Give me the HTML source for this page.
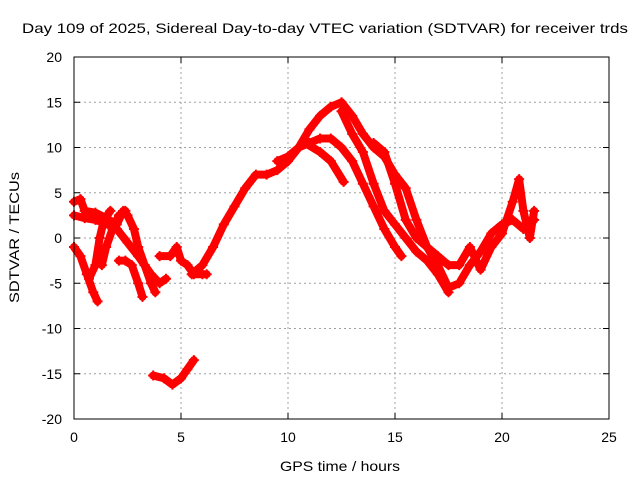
<!DOCTYPE html>
<html><head><meta charset="utf-8"><style>
body{margin:0;background:#fff}
svg text{font-family:"Liberation Sans",sans-serif;font-size:14px;fill:#000}
</style></head><body>
<svg id="chart" width="640" height="480">
<text x="22" y="33" font-size="16" textLength="606" lengthAdjust="spacingAndGlyphs">Day 109 of 2025, Sidereal Day-to-day VTEC variation (SDTVAR) for receiver trds</text>
<text x="280" y="471" font-size="15" textLength="120" lengthAdjust="spacingAndGlyphs">GPS time / hours</text>
<text transform="translate(19,303) rotate(-90)" font-size="15" textLength="131" lengthAdjust="spacingAndGlyphs">SDTVAR / TECUs</text>
<g id="grid"></g><g id="marks"></g><g id="axes"></g>
</svg>
<script>
const xTicks=[0,5,10,15,20,25];
const yTicks=[-20,-15,-10,-5,0,5,10,15,20];
const track1=[[0,4],[0.3,4.3],[0.5,3],[1,2.8],[1.5,2.2],[2,1.5],[2.3,3],[2.5,2.5],[2.8,1],[3,-1],[3.3,-3],[3.6,-4],[4,-5],[4.3,-4.5]];
const track2=[[0,2.5],[0.5,2.2],[1,2],[1.5,1.6],[2,1],[2.5,-0.5],[3,-2],[3.3,-3],[3.6,-5],[3.8,-6]];
const track3=[[0,-1],[0.3,-2],[0.6,-4],[0.9,-6],[1.1,-7]];
const track4=[[0.7,-4.5],[1,-3],[1.2,0],[1.4,2],[1.7,3]];
const track5=[[1.3,-3],[1.5,-1],[1.8,1],[2.1,2.5],[2.4,3]];
const track6=[[2.1,-2.5],[2.4,-2.5],[2.7,-3],[3,-5],[3.2,-6.5]];
const track7=[[4,-2],[4.5,-2],[4.8,-1],[5,-2.5],[5.3,-3],[5.6,-4],[6,-4],[6.2,-4]];
const track8=[[3.7,-15.2],[4.2,-15.5],[4.6,-16.2],[5,-15.5],[5.3,-14.5],[5.6,-13.5]];
const track9=[[5.5,-4],[6,-3],[6.5,-1],[7,1.5],[7.5,3.5],[8,5.5],[8.5,7],[9,7],[9.5,7.5],[10,8.5],[10.5,10],[11,12],[11.5,13.5],[12,14.5],[12.5,15],[13,13.5],[13.5,11.5],[14,10],[14.5,9],[15,7],[15.5,5.5],[16,2],[16.5,-1],[17,-3],[17.5,-5.5],[18,-5],[18.5,-3],[19,-1.5],[19.5,0.5],[20,1.5],[20.5,2],[21,1],[21.5,2]];
const track10=[[9.5,8.5],[10,9],[10.5,10],[11,10.5],[11.5,11],[12,11],[12.5,10],[13,8.5],[13.5,6],[14,3.5],[14.5,1],[15,-1],[15.3,-2]];
const track11=[[10.8,10.5],[11.5,9.5],[12,8.5],[12.6,6.2]];
const track12=[[12.5,14],[13,11.5],[13.5,9.5],[14,6],[14.5,3],[15,1.5],[15.5,0],[16,-1.5],[16.5,-2.5],[17,-4],[17.5,-6]];
const track13=[[14,10.5],[14.5,9.5],[15,6],[15.5,2],[16,0],[16.5,-1],[17,-2],[17.5,-3],[18,-3],[18.5,-1],[19,-3.5],[19.5,-1],[20,0.5],[20.5,4],[20.8,6.5],[21,3],[21.3,0],[21.5,3]];
const tracks=[track1,track2,track3,track4,track5,track6,track7,track8,track9,track10,track11,track12,track13];
const X0=74,X1=609,Y0=419,Y1=57;
const sx=v=>X0+(v-0)/(25-0)*(X1-X0);
const sy=v=>Y0-(v+20)/40*(Y0-Y1);
const NS="http://www.w3.org/2000/svg";
function mk(tag,attrs,parent){const e=document.createElementNS(NS,tag);for(const k in attrs)e.setAttribute(k,attrs[k]);parent.appendChild(e);return e;}
const grid=document.getElementById('grid'),marks=document.getElementById('marks'),axes=document.getElementById('axes');
xTicks.forEach(t=>{
 if(t>0&&t<25){const l=mk('line',{x1:sx(t),x2:sx(t),y1:Y1,y2:Y0,stroke:'#a0a0a0','stroke-dasharray':'2,3'},grid);
 
 }
 const tx=mk('text',{x:sx(t),y:Y0+23,'text-anchor':'middle'},axes);tx.textContent=t;
 
 
 mk('line',{x1:sx(t),x2:sx(t),y1:Y0,y2:Y0-6,stroke:'#000'},axes);
 mk('line',{x1:sx(t),x2:sx(t),y1:Y1,y2:Y1+6,stroke:'#000'},axes);
});
yTicks.forEach(t=>{
 if(t>-20&&t<20){const l=mk('line',{x1:X0,x2:X1,y1:sy(t),y2:sy(t),stroke:'#a0a0a0','stroke-dasharray':'2,3'},grid);
 
 }
 const tx=mk('text',{x:X0-12,y:sy(t)+5,'text-anchor':'end'},axes);tx.textContent=t;
 
 
 mk('line',{x1:X0,x2:X0+6,y1:sy(t),y2:sy(t),stroke:'#000'},axes);
 mk('line',{x1:X1,x2:X1-6,y1:sy(t),y2:sy(t),stroke:'#000'},axes);
});
const frame=mk('rect',{x:X0,y:Y1,width:X1-X0,height:Y0-Y1,fill:'none',stroke:'#000'},axes);


tracks.forEach(tr=>{
 const pl=mk('polyline',{points:tr.map(p=>sx(p[0])+','+sy(p[1])).join(' '),fill:'none',stroke:'#f00','stroke-width':8,'stroke-linejoin':'round','stroke-linecap':'round'},marks);
 
 
 tr.forEach(p=>{const x=sx(p[0]),y=sy(p[1]);
  const m=mk('path',{d:`M${x-5} ${y}H${x+5}M${x} ${y-5}V${y+5}`,stroke:'#f00','stroke-width':2},marks);
  
  
 });
});
</script>
</body></html>
